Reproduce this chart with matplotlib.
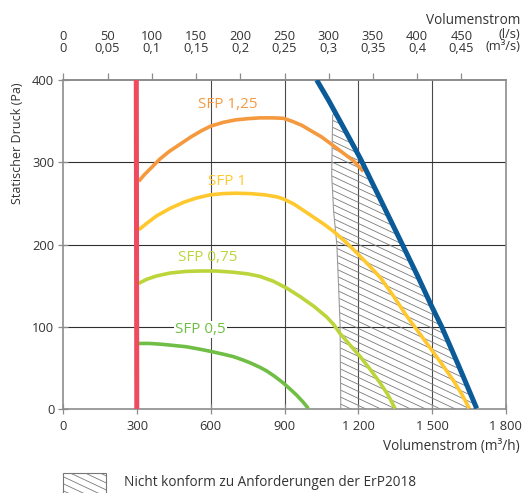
import numpy as np
import matplotlib
matplotlib.use("Agg")
import matplotlib.pyplot as plt
from matplotlib.patches import Polygon, Rectangle
from matplotlib.collections import LineCollection
from matplotlib.transforms import Affine2D

plt.rcParams['font.family'] = ['Open Sans', 'DejaVu Sans']
FS = 9.8      # general text
FT = 9.3      # tick labels
FL = 11.0     # curve labels

# ---------------- data ----------------
x_ticks = [0, 300, 600, 900, 1200, 1500, 1800]
x_ticklabels = ['0', '300', '600', '900', '1 200', '1 500', '1 800']
y_ticks = [0, 100, 200, 300, 400]
ls_ticks = [0, 50, 100, 150, 200, 250, 300, 350, 400, 450]
m3s_labels = ['0', '0,05', '0,1', '0,15', '0,2', '0,25', '0,3', '0,35', '0,4', '0,45']

red_q = [297, 299]
red_p = [400, 0]

blue_q = [1031, 1080, 1126, 1170, 1208, 1290, 1370, 1440, 1499, 1540, 1610, 1682]
blue_p = [400, 375, 350, 326, 305, 255, 206, 163, 125, 100, 52, 1]

sfp125_q = [307, 330, 360, 393, 430, 470, 520, 560, 600, 650, 700, 750, 800, 850, 895,
            930, 970, 1004, 1050, 1100, 1140, 1180, 1221]
sfp125_p = [277, 285, 294, 304, 313, 321, 331, 338, 344, 348.5, 351.5, 353, 354, 354, 353.5,
            350, 345, 339, 331, 320, 311, 302, 289]

sfp1_q = [307, 340, 380, 434, 490, 540, 597, 650, 700, 760, 820, 870, 900, 940, 980, 1020,
          1060, 1100, 1150, 1194, 1240, 1290, 1340, 1398, 1450, 1499, 1545, 1587, 1620, 1652]
sfp1_p = [218, 226, 235, 244, 251.5, 256.5, 260.5, 262, 262.5, 262, 260.5, 258, 255, 249, 241, 233,
          225, 216, 203, 190, 176, 160, 139, 113, 92, 72, 53, 35, 19, 1]

sfp075_q = [307, 340, 380, 434, 500, 560, 620, 692, 750, 800, 855, 910, 963, 1020, 1072, 1100,
            1126, 1167, 1208, 1250, 1289, 1320, 1350]
sfp075_p = [153, 158, 162, 165.5, 167.5, 168, 168, 166.5, 164.5, 161.5, 155.5, 147, 137, 125, 112,
            103, 92, 78, 64, 48, 32, 18, 1]

sfp05_q = [307, 350, 400, 434, 500, 556, 597, 650, 692, 730, 760, 800, 828, 860, 895, 925, 950,
           975, 997]
sfp05_p = [80, 80, 79, 78, 76, 73, 70.5, 67, 64, 60, 56.5, 51, 46.5, 40, 32, 24, 17, 9, 1]

hatch_left_q = [1108, 1096, 1092, 1100, 1113, 1120, 1126, 1129]
hatch_left_p = [362, 357, 285, 240, 200, 150, 104, 0]

curve_labels = ['SFP 1,25', 'SFP 1', 'SFP 0,75', 'SFP 0,5']
label_q = [670, 668, 589, 557]
label_p = [370, 277, 184, 97]

# ---------------- colours ----------------
c_red = '#EE4B5E'
c_blue = '#0A5B98'
c_orange = '#F5993F'
c_yellow = '#FFC82E'
c_lime = '#BCD53A'
c_green = '#70BE46'
c_grid = '#4a4a4a'
c_spine = '#8c8c8c'
c_text = '#333333'

W, H = 523, 493
fig = plt.figure(figsize=(W / 100, H / 100), dpi=100)
ax = fig.add_axes([63.3 / W, 1 - 409.3 / H, (505.7 - 63.3) / W, (409.3 - 80) / H])
pix = Affine2D().scale(1 / 100, -1 / 100).translate(0, H / 100) + fig.dpi_scale_trans

ax.set_xlim(0, 1800)
ax.set_ylim(0, 400)
ax.set_xticks(x_ticks)
ax.set_xticklabels(x_ticklabels)
ax.set_yticks(y_ticks)
ax.tick_params(axis='both', direction='inout', length=7, width=0.9, color=c_spine,
               labelsize=FT, labelcolor=c_text, pad=3)
ax.tick_params(axis='x', pad=4)
for s in ax.spines.values():
    s.set_color(c_spine)
    s.set_linewidth(1.2)

# grid
for q in x_ticks[1:-1]:
    ax.axvline(q, color=c_grid, lw=0.8, zorder=1)
for p in y_ticks[1:-1]:
    ax.axhline(p, color='#2f2f2f', lw=0.8, zorder=1)

# hatch region
bq = [q for q in blue_q if q > hatch_left_q[0]]
bp = [p for q, p in zip(blue_q, blue_p) if q > hatch_left_q[0]]
poly_q = hatch_left_q + [blue_q[-1]] + bq[::-1]
poly_p = hatch_left_p + [0] + bp[::-1]
poly = Polygon(np.column_stack([poly_q, poly_p]), closed=True, facecolor='none',
               edgecolor='none', zorder=1.2)
ax.add_patch(poly)
ax.plot(hatch_left_q, hatch_left_p, color='#9a9a9a', lw=0.8, zorder=1.3)

segs = [[(0, c), (W, c + 0.47 * W)] for c in np.arange(-400, 600, 7.0)]
lc = LineCollection(segs, colors='#7a7a7a', linewidths=0.6, transform=pix, zorder=1.25)
ax.add_collection(lc)
lc.set_clip_path(poly)

# curves
lw_c = 2.6
kw = dict(lw=lw_c, zorder=3, solid_capstyle='butt', solid_joinstyle='round')
ax.plot(sfp05_q, sfp05_p, color=c_green, **kw)
ax.plot(sfp075_q, sfp075_p, color=c_lime, **kw)
ax.plot(sfp1_q, sfp1_p, color=c_yellow, **kw)
ax.plot(sfp125_q, sfp125_p, color=c_orange, **kw)
ax.plot(red_q, red_p, color=c_red, lw=3.6, zorder=4, solid_capstyle='butt')
ax.plot(blue_q, blue_p, color=c_blue, lw=3.6, zorder=4, solid_capstyle='butt',
        solid_joinstyle='round')

for txt, q, p, c in zip(curve_labels, label_q, label_p, [c_orange, c_yellow, c_lime, c_green]):
    t = ax.text(q, p, txt, color=c, fontsize=FL, ha='center', va='center', zorder=5)
    if txt == 'SFP 0,5':
        t.set_bbox(dict(facecolor='white', edgecolor='none', pad=1.0))

# top axis
sec = ax.secondary_xaxis('top', functions=(lambda q: q / 3.6, lambda l: l * 3.6))
sec.set_xticks(ls_ticks)
sec.set_xticklabels([f"{l}\n{m}" for l, m in zip(ls_ticks, m3s_labels)], linespacing=0.85)
sec.tick_params(direction='out', length=5, width=0.9, color=c_spine, labelsize=FT,
                labelcolor=c_text, pad=13)
sec.spines['top'].set_color(c_spine)
sec.spines['top'].set_linewidth(1.2)

# text
fig.text(520 / W, 1 - 35 / H, '(l/s)', ha='right', va='center', fontsize=FT, color=c_text)
fig.text(520 / W, 1 - 47 / H, '(m³/s)', ha='right', va='center', fontsize=FT, color=c_text)
fig.text(520 / W, 1 - 20.7 / H, 'Volumenstrom', ha='right', va='center', fontsize=FS, color=c_text)
fig.text(520 / W, 1 - 446.7 / H, 'Volumenstrom (m³/h)', ha='right', va='center', fontsize=FS,
         color=c_text)
fig.text(17.5 / W, 1 - 83 / H, 'Statischer Druck (Pa)', rotation=90, ha='center', va='top',
         fontsize=9, color=c_text)

# legend
rect = Rectangle((63, 472.7), 43, 22, transform=pix, facecolor='white', edgecolor='#777777',
                 lw=0.8, clip_on=False)
fig.add_artist(rect)
lc2 = LineCollection(segs, colors='#7a7a7a', linewidths=0.6, transform=pix)
fig.add_artist(lc2)
lc2.set_clip_path(rect)
fig.text(124 / W, 1 - 483 / H, 'Nicht konform zu Anforderungen der ErP2018', ha='left',
         va='center', fontsize=FS, color=c_text)

fig.savefig('out.png', dpi=100)
